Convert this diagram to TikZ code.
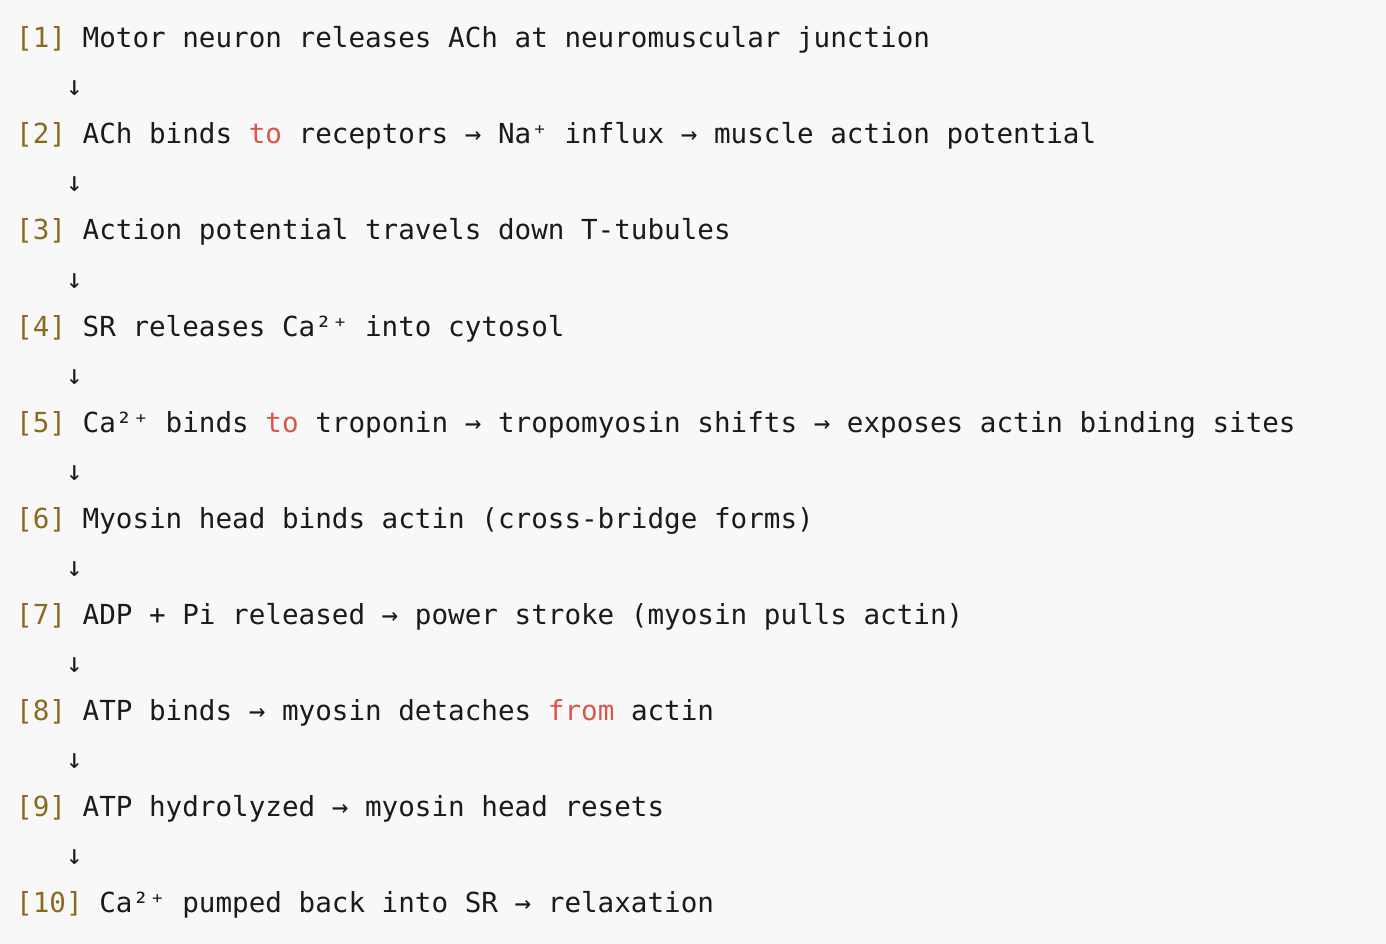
\documentclass[tikz,border=0pt]{standalone}
\usepackage{fontspec}
\setmonofont{DejaVu Sans Mono}
\definecolor{bg}{HTML}{F8F8F8}
\definecolor{num}{HTML}{8B6A1E}
\definecolor{kw}{HTML}{D9574A}
\definecolor{tx}{HTML}{1A1A1A}
\newcommand{\nm}[1]{\textcolor{num}{#1}}
\newcommand{\kw}[1]{\textcolor{kw}{#1}}
\begin{document}
\begin{tikzpicture}[x=1pt,y=-1pt,
  line/.style={anchor=base west,inner sep=0pt,text=tx,font=\ttfamily\fontsize{27.6}{32}\selectfont}]
\fill[bg] (0,0) rectangle (1386,944);
\useasboundingbox (0,0) rectangle (1386,944);
\node[line] (l1) at (16,48) {\nm{[1]} Motor neuron releases ACh at neuromuscular junction};
\node[line] (a1) at (16,96) {\ \ \ ↓};
\node[line] (l2) at (16,144) {\nm{[2]} ACh binds \kw{to} receptors → Na⁺ influx → muscle action potential};
\node[line] (a2) at (16,192) {\ \ \ ↓};
\node[line] (l3) at (16,240) {\nm{[3]} Action potential travels down T-tubules};
\node[line] (a3) at (16,288) {\ \ \ ↓};
\node[line] (l4) at (16,336) {\nm{[4]} SR releases Ca²⁺ into cytosol};
\node[line] (a4) at (16,384) {\ \ \ ↓};
\node[line] (l5) at (16,432) {\nm{[5]} Ca²⁺ binds \kw{to} troponin → tropomyosin shifts → exposes actin binding sites};
\node[line] (a5) at (16,480) {\ \ \ ↓};
\node[line] (l6) at (16,528) {\nm{[6]} Myosin head binds actin (cross-bridge forms)};
\node[line] (a6) at (16,576) {\ \ \ ↓};
\node[line] (l7) at (16,624) {\nm{[7]} ADP + Pi released → power stroke (myosin pulls actin)};
\node[line] (a7) at (16,672) {\ \ \ ↓};
\node[line] (l8) at (16,720) {\nm{[8]} ATP binds → myosin detaches \kw{from} actin};
\node[line] (a8) at (16,768) {\ \ \ ↓};
\node[line] (l9) at (16,816) {\nm{[9]} ATP hydrolyzed → myosin head resets};
\node[line] (a9) at (16,864) {\ \ \ ↓};
\node[line] (l10) at (16,912) {\nm{[10]} Ca²⁺ pumped back into SR → relaxation};
\end{tikzpicture}
\end{document}
